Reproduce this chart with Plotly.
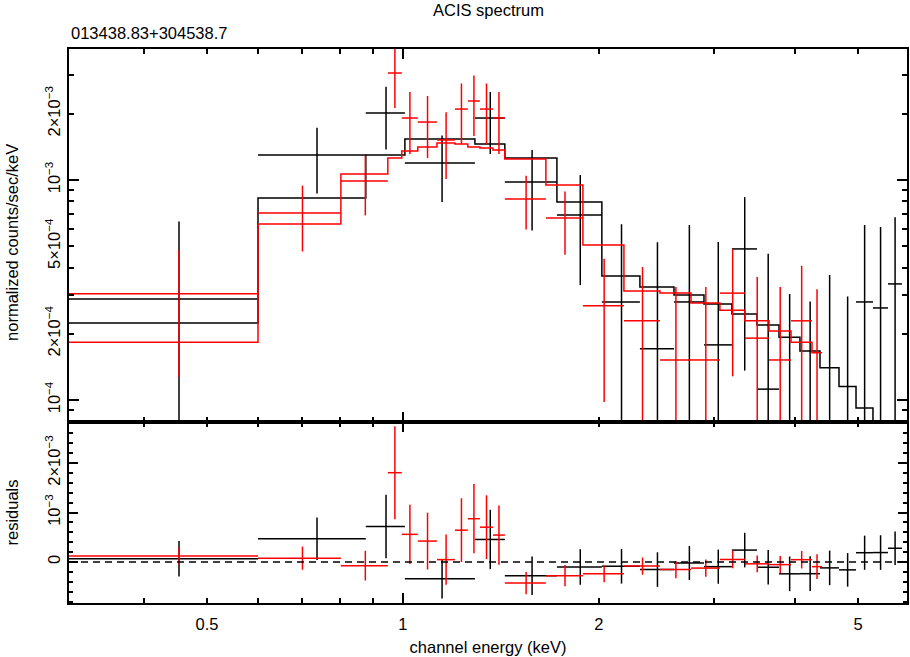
import numpy as np
import plotly.graph_objects as go
from plotly.subplots import make_subplots

# bin edges in keV (contiguous), black = data group 1, red = data group 2
black_edges = [0.307, 0.599, 0.877, 1.007, 1.290, 1.434, 1.724, 2.021, 2.312, 2.608, 2.900,
               3.201, 3.498, 3.781, 4.072, 4.371, 4.675, 4.965, 5.272, 5.559, 5.842]
# normalized counts/sec/keV, in units of 1e-3
black_rate = [0.288, 1.299, 2.016, 1.195, 1.913, 0.979, 0.693, 0.279, 0.171, 0.279,
              0.178, 0.486, 0.112, -0.047, -0.070, 0.020, -0.045, 0.279, 0.262, 0.337]
black_err = [0.36, 0.43, 0.64, 0.40, 0.60, 0.39, 0.36, 0.35, 0.35, 0.345,
             0.345, 0.35, 0.35, 0.35, 0.35, 0.35, 0.34, 0.345, 0.35, 0.34]
black_model = [0.224, 0.829, 1.299, 1.536, 1.458, 1.259, 0.794, 0.366, 0.326, 0.300,
               0.273, 0.246, 0.219, 0.193, 0.167, 0.140, 0.115, 0.092, 0.072, 0.060]

red_edges = [0.307, 0.599, 0.803, 0.948, 0.996, 1.054, 1.128, 1.202, 1.258, 1.313, 1.375,
             1.434, 1.658, 1.890, 2.185, 2.482, 2.770, 3.068, 3.352, 3.650, 3.945, 4.249, 4.402]
red_rate = [0.304, 0.708, 0.990, 3.064, 1.913, 1.834, 1.520, 2.101, 2.286, 2.101, 1.913,
            0.820, 0.672, 0.268, 0.229, 0.152, 0.152, 0.306, 0.191, 0.152, 0.229, 0.069]
red_err = [0.177, 0.235, 0.30, 0.94, 0.60, 0.575, 0.51, 0.645, 0.70, 0.645, 0.60,
           0.225, 0.215, 0.17, 0.173, 0.174, 0.174, 0.178, 0.171, 0.174, 0.178, 0.25]
red_model = [0.183, 0.631, 1.065, 1.259, 1.355, 1.412, 1.473, 1.458, 1.412, 1.398, 1.369,
             1.246, 0.949, 0.506, 0.313, 0.306, 0.276, 0.256, 0.229, 0.206, 0.183, 0.164]

x_range = [0.307, 5.946]
top_range = [7.94e-5, 3.94e-3]
res_range = [-0.83e-3, 2.83e-3]

x_ticks = [0.5, 1, 2, 5]
x_tick_text = ["0.5", "1", "2", "5"]
x_minor = [0.4, 0.6, 0.7, 0.8, 0.9, 3, 4]
x_long = [1]

top_ticks = [1e-4, 2e-4, 5e-4, 1e-3, 2e-3]
top_tick_text = ["10<sup>\u22124</sup>", "2\u00d710<sup>\u22124</sup>", "5\u00d710<sup>\u22124</sup>",
                 "10<sup>\u22123</sup>", "2\u00d710<sup>\u22123</sup>"]
top_minor = [8e-5, 9e-5, 3e-4, 4e-4, 6e-4, 7e-4, 8e-4, 9e-4, 3e-3]
top_long = [1e-4, 1e-3]

res_ticks = [0, 1e-3, 2e-3]
res_tick_text = ["0", "10<sup>\u22123</sup>", "2\u00d710<sup>\u22123</sup>"]

FONT = dict(family="Liberation Sans, Arial, sans-serif", size=16.5, color="black")


def crosses(edges, val, err, floor=None):
    # error crosses: horizontal bar over the bin, vertical bar at the bin centre
    xs, ys = [], []
    for i in range(len(val)):
        lo, hi = edges[i], edges[i + 1]
        mid = 0.5 * (lo + hi)
        y0, y1 = val[i] - err[i], val[i] + err[i]
        if floor is not None:
            y0 = max(y0, floor)
        xs += [mid, mid, None]
        ys += [y0, y1, None]
        if floor is None or val[i] > floor:
            xs += [lo, hi, None]
            ys += [val[i], val[i], None]
    return xs, ys


fig = make_subplots(rows=2, cols=1, shared_xaxes=True, vertical_spacing=0,
                    row_heights=[0.6733, 0.3267])

groups = [
    ("black", black_edges, black_rate, black_err, black_model),
    ("#ff0000", red_edges, red_rate, red_err, red_model),
]
for color, edges, rate, err, model in groups:
    rate = np.array(rate) * 1e-3
    err = np.array(err) * 1e-3
    model = np.array(model) * 1e-3

    xs, ys = crosses(edges, rate, err, floor=1e-7)
    fig.add_trace(go.Scatter(x=xs, y=ys, mode="lines", line=dict(color=color, width=1.5),
                             showlegend=False, hoverinfo="skip"), row=1, col=1)
    fig.add_trace(go.Scatter(x=edges, y=list(model) + [model[-1]], mode="lines",
                             line=dict(color=color, width=1.5, shape="hv"),
                             showlegend=False, hoverinfo="skip"), row=1, col=1)

    resid = rate - model
    xs, ys = crosses(edges, resid, err)
    fig.add_trace(go.Scatter(x=xs, y=ys, mode="lines", line=dict(color=color, width=1.5),
                             showlegend=False, hoverinfo="skip"), row=2, col=1)

# zero line of the residual panel
fig.add_trace(go.Scatter(x=x_range, y=[0, 0], mode="lines",
                         line=dict(color="black", width=1.5, dash="7px,5px"),
                         showlegend=False, hoverinfo="skip"), row=2, col=1)

tick_style = dict(ticks="inside", tickcolor="black", tickwidth=1.5)
frame = dict(showgrid=False, zeroline=False, showline=True, linecolor="black",
             linewidth=2, mirror="ticks", automargin=False)

xcommon = dict(type="log", range=[np.log10(x_range[0]), np.log10(x_range[1])],
               tickmode="array", tickvals=x_ticks, ticktext=x_tick_text, ticklen=5,
               minor=dict(tickmode="array", tickvals=x_minor, ticklen=5, **tick_style),
               tickfont=FONT, **tick_style, **frame)
overlay = dict(showticklabels=False, showgrid=False, zeroline=False, showline=False,
               mirror="ticks", automargin=False, tickmode="array", ticklen=10, **tick_style)
fig.update_layout(
    xaxis=dict(showticklabels=False, **xcommon),
    xaxis2=dict(showticklabels=True, ticklabelstandoff=5,
                title=dict(text="channel energy (keV)", font=FONT, standoff=10), **xcommon),
    yaxis=dict(type="log", range=[np.log10(top_range[0]), np.log10(top_range[1])],
               tickmode="array", tickvals=top_ticks, ticktext=top_tick_text, ticklen=5,
               tickangle=-90, tickfont=FONT,
               minor=dict(tickmode="array", tickvals=top_minor, ticklen=5, **tick_style),
               **tick_style, **frame),
    yaxis2=dict(range=res_range, tickmode="array", tickvals=res_ticks, ticktext=res_tick_text,
                ticklen=9, tickangle=-90, tickfont=FONT,
                minor=dict(tickmode="linear", tick0=0, dtick=2e-4, ticklen=4, **tick_style),
                **tick_style, **frame),
    # overlay axes carrying only the longer decade ticks
    xaxis3=dict(type="log", overlaying="x", anchor="y", tickvals=x_long,
                range=[np.log10(x_range[0]), np.log10(x_range[1])], **overlay),
    xaxis4=dict(type="log", overlaying="x2", anchor="y2", tickvals=x_long,
                range=[np.log10(x_range[0]), np.log10(x_range[1])], **overlay),
    yaxis3=dict(type="log", overlaying="y", anchor="x", tickvals=top_long,
                range=[np.log10(top_range[0]), np.log10(top_range[1])], **overlay),
)
# empty traces so the overlay axes get drawn
fig.add_trace(go.Scatter(x=[], y=[], xaxis="x3", yaxis="y", showlegend=False))
fig.add_trace(go.Scatter(x=[], y=[], xaxis="x4", yaxis="y2", showlegend=False))
fig.add_trace(go.Scatter(x=[], y=[], xaxis="x", yaxis="y3", showlegend=False))

fig.add_annotation(text="ACIS spectrum", xref="paper", yref="paper", x=0.5, y=1,
                   xanchor="center", yanchor="bottom", yshift=28, showarrow=False, font=FONT)
fig.add_annotation(text="013438.83+304538.7", xref="paper", yref="paper", x=0, y=1,
                   xanchor="left", yanchor="bottom", yshift=5, showarrow=False, font=FONT)
fig.add_annotation(text="normalized counts/sec/keV", xref="paper", yref="y domain", x=0, y=0.48,
                   xanchor="center", yanchor="middle", xshift=-57, textangle=-90,
                   showarrow=False, font=FONT)
fig.add_annotation(text="residuals", xref="paper", yref="y2 domain", x=0, y=0.5,
                   xanchor="center", yanchor="middle", xshift=-57, textangle=-90,
                   showarrow=False, font=FONT)

fig.update_layout(width=910, height=657, margin=dict(l=69, r=3, t=49, b=54),
                  plot_bgcolor="white", paper_bgcolor="white", font=FONT, showlegend=False)

# drop the browser's default body margin so the figure fills the window
fig.write_html("out.html", config={"displayModeBar": False},
               post_script="document.body.style.margin = '0';")
